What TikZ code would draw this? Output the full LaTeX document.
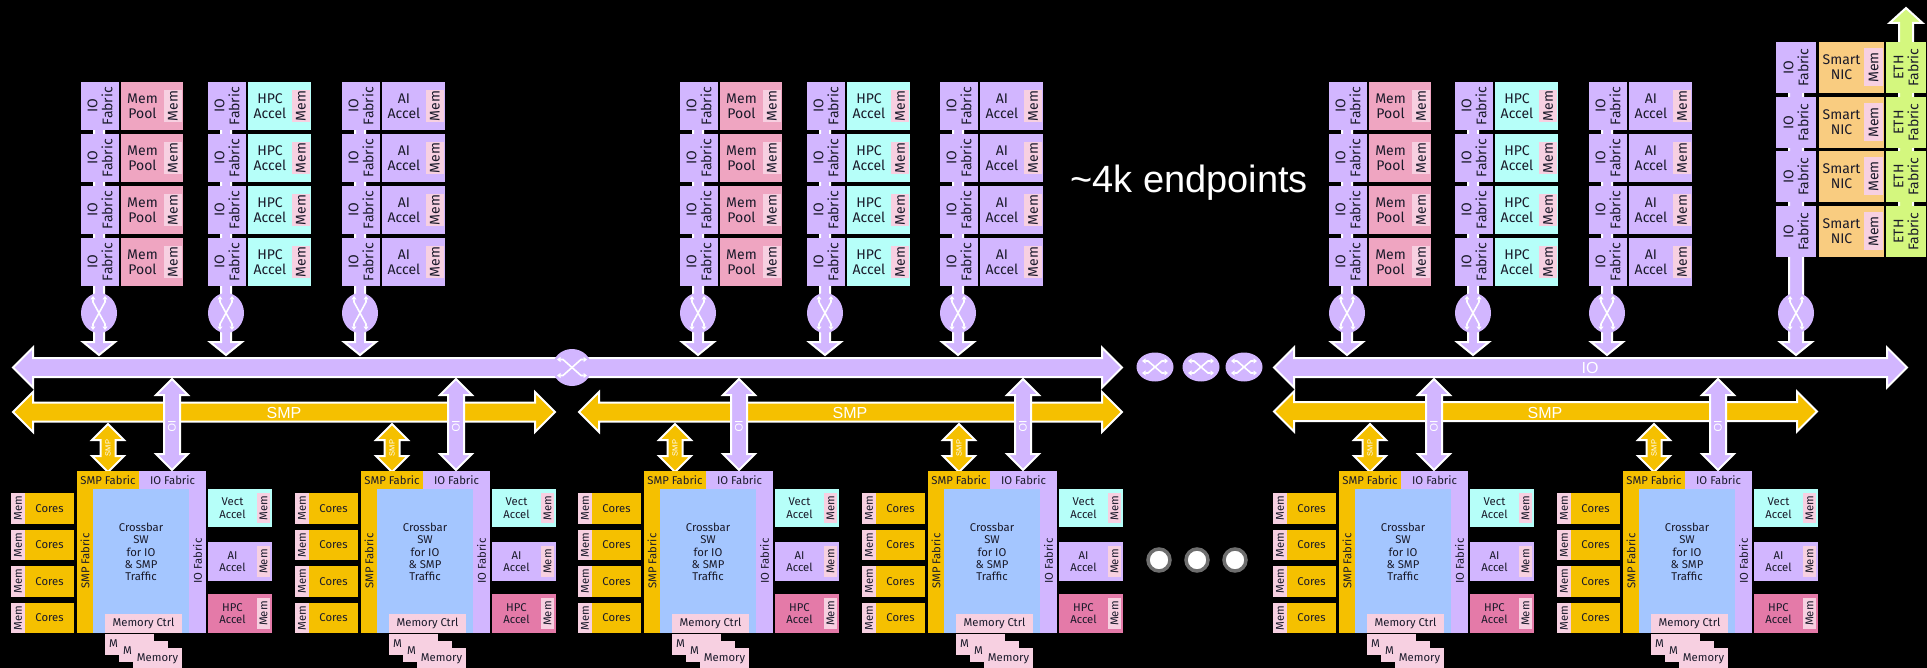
\documentclass[tikz,border=0pt]{standalone}
\usepackage{fontspec}
\setmainfont{Liberation Sans}
\newfontfamily\plex{Fira Sans}
\usetikzlibrary{shapes.geometric,arrows.meta,calc}
\definecolor{lav}{HTML}{D2B6FF}
\definecolor{smpy}{HTML}{F5C000}
\definecolor{memlt}{HTML}{F7D0E1}
\definecolor{mempool}{HTML}{EFA5C1}
\definecolor{hpccyan}{HTML}{B6FFF9}
\definecolor{xbar}{HTML}{A4C6FF}
\definecolor{hpcdark}{HTML}{E47AA8}
\definecolor{nic}{HTML}{F9CC80}
\definecolor{eth}{HTML}{D4F77E}
\definecolor{txt}{HTML}{1A1A2A}
\definecolor{dotgray}{HTML}{6E6E6E}
\tikzset{
  blk/.style={draw=none, inner sep=0pt, outer sep=0pt, anchor=north west},
  lbl/.style={font=\plex\fontsize{14}{15}\selectfont, text=txt, align=center, inner sep=0pt},
  vlbl/.style={lbl, rotate=90},
  clbl/.style={font=\plex\fontsize{11.3}{12.4}\selectfont, text=txt, align=center, inner sep=0pt},
  cvlbl/.style={clbl, rotate=90},
  fat/.style={draw=white, line width=2pt, line join=miter},
  icon/.style={draw=white, line width=1.6pt, {Triangle[length=3.5pt,width=5pt]}-{Triangle[length=3.5pt,width=5pt]}},
  swell/.style={ellipse, fill=lav, inner sep=0pt, outer sep=0pt},
  buslbl/.style={font=\fontsize{16}{18}\selectfont, text=white, inner sep=0pt},
}
% box: name x y w h color
\newcommand{\bx}[6]{\node[blk, fill=#6, minimum width=#4pt, minimum height=#5pt] (#1) at (#2,#3) {};}
% horizontal double bus: x1 x2 yc color
\newcommand{\hbus}[4]{\draw[fat, fill=#4] (#1,#3) -- (#1+20,#3-20) -- (#1+20,#3-9.5) -- (#2-20,#3-9.5) -- (#2-20,#3-20) -- (#2,#3) -- (#2-20,#3+20) -- (#2-20,#3+9.5) -- (#1+20,#3+9.5) -- (#1+20,#3+20) -- cycle;}
% vertical double arrow: x y1 y2 hs hh hl color
\newcommand{\vdarrow}[7]{\draw[fat, fill=#7] (#1,#2) -- (#1+#5,#2+#6) -- (#1+#4,#2+#6) -- (#1+#4,#3-#6) -- (#1+#5,#3-#6) -- (#1,#3) -- (#1-#5,#3-#6) -- (#1-#4,#3-#6) -- (#1-#4,#2+#6) -- (#1-#5,#2+#6) -- cycle;}
% down arrow: x y1(top, tail) y2(tip) hs hh hl color
\newcommand{\vdown}[7]{\draw[fat, fill=#7] (#1-#4,#2) -- (#1-#4,#3-#6) -- (#1-#5,#3-#6) -- (#1,#3) -- (#1+#5,#3-#6) -- (#1+#4,#3-#6) -- (#1+#4,#2) -- cycle;}
% up arrow: x y1(tip) y2(tail) hs hh hl color
\newcommand{\vup}[7]{\draw[fat, fill=#7] (#1,#2) -- (#1+#5,#2+#6) -- (#1+#4,#2+#6) -- (#1+#4,#3) -- (#1-#4,#3) -- (#1-#4,#2+#6) -- (#1-#5,#2+#6) -- cycle;}
% switch icons
\newcommand{\vicon}[2]{%
  \draw[icon] (#1-6,#2-17) -- (#1-6,#2-11) -- (#1+6,#2+11) -- (#1+6,#2+17);
  \draw[icon] (#1+6,#2-17) -- (#1+6,#2-11) -- (#1-6,#2+11) -- (#1-6,#2+17);}
\newcommand{\hicon}[4]{%
  \draw[icon] (#1-#3,#2-#4) -- (#1-#3+6,#2-#4) -- (#1+#3-6,#2+#4) -- (#1+#3,#2+#4);
  \draw[icon] (#1-#3,#2+#4) -- (#1-#3+6,#2+#4) -- (#1+#3-6,#2-#4) -- (#1+#3,#2-#4);}
% endpoint row: name x y h mainlabel color mainw
\newcommand{\eprow}[7]{%
  \bx{#1a}{#2}{#3}{38}{#4}{lav}
  \node[vlbl] (#1at) at (#1a.center) {IO\\Fabric};
  \bx{#1b}{#2+40}{#3}{#7}{#4}{#6}
  \node[blk, fill=memlt, minimum width=18pt, minimum height=32pt, anchor=east] (#1c) at ([xshift=-1pt]#1b.east) {};
  \node[vlbl] (#1ct) at (#1c.center) {Mem};
  \node[lbl] (#1bt) at ($(#1b.west)!0.5!(#1c.west)$) {#5};}
% endpoint stack: name x label color w
\newcommand{\epstack}[5]{%
  \vdown{#2+18}{100}{355}{5}{16}{13}{lav}
  \node[swell, minimum width=36pt, minimum height=40pt] (#1sw) at (#2+18,313) {};
  \vicon{#2+18}{313}
  \foreach \i in {0,1,2,3} {\eprow{#1r\i}{#2}{82+52*\i}{48}{#3}{#4}{#5}}}
% chip: name dx
\newcommand{\chip}[2]{%
  \vdarrow{#2+108}{424}{472}{7.5}{16}{16}{smpy}
  \node[font=\fontsize{7.5}{8}\selectfont, text=white, rotate=90, inner sep=0pt] (#1smpl) at (#2+108,448) {SMP};
  \vdarrow{#2+172}{379}{470}{8}{16}{16}{lav}
  \node[font=\fontsize{11}{12}\selectfont, text=white, rotate=-90, inner sep=0pt] (#1iol) at (#2+172,426) {IO};
  \foreach \r/\yy in {1/493,2/529.5,3/566,4/602.5} {
    \bx{#1m\r}{#2+11}{\yy}{14}{30.5}{memlt}
    \node[cvlbl] (#1mt\r) at (#1m\r.center) {Mem};
    \bx{#1c\r}{#2+25}{\yy}{49}{30.5}{smpy}
    \node[clbl] (#1ct\r) at (#1c\r.center) {Cores};
  }
  \bx{#1sf}{#2+77}{471}{62}{18}{smpy}
  \node[clbl] (#1sft) at (#1sf.center) {SMP Fabric};
  \bx{#1ss}{#2+77}{489}{16}{144}{smpy}
  \node[cvlbl] (#1sst) at (#1ss.center) {SMP Fabric};
  \bx{#1if}{#2+139}{471}{67}{18}{lav}
  \node[clbl] (#1ift) at (#1if.center) {IO Fabric};
  \bx{#1is}{#2+189}{489}{17}{144}{lav}
  \node[cvlbl] (#1ist) at (#1is.center) {IO Fabric};
  \bx{#1xb}{#2+93}{489}{96}{144}{xbar}
  \node[clbl] (#1xbt) at (#2+141,552) {Crossbar\\SW\\for IO\\\& SMP\\Traffic};
  \bx{#1mc}{#2+105}{614}{77}{19}{memlt}
  \node[clbl] (#1mct) at (#1mc.center) {Memory Ctrl};
  \bx{#1s1}{#2+105}{634}{49}{21}{memlt}
  \node[clbl, anchor=west] (#1s1t) at (#2+109,644) {M};
  \bx{#1s2}{#2+119}{641}{49}{21}{memlt}
  \node[clbl, anchor=west] (#1s2t) at (#2+123,651) {M};
  \bx{#1s3}{#2+133}{648}{49}{21}{memlt}
  \node[clbl] (#1s3t) at (#2+157.5,658.5) {Memory};
  \foreach \k/\yy/\hh/\cc/\la in {v/489/38/hpccyan/{Vect\\Accel}, a/542/39/lav/{AI\\Accel}, h/594/39/hpcdark/{HPC\\Accel}} {
    \bx{#1\k}{#2+208}{\yy}{64}{\hh}{\cc}
    \node[blk, fill=memlt, minimum width=13pt, minimum height=\hh pt-8pt, anchor=east] (#1\k m) at ([xshift=-2pt]#1\k.east) {};
    \node[cvlbl] (#1\k mt) at (#1\k m.center) {Mem};
    \node[clbl] (#1\k t) at ($(#1\k.west)!0.5!(#1\k m.west)$) {\la};
  }}
\begin{document}
\begin{tikzpicture}[x=1pt,y=-1pt]
\useasboundingbox (0,0) rectangle (1927,668);
\fill[black] (0,0) rectangle (1927,668);
% endpoint stacks
\epstack{A1}{81}{Mem\\Pool}{mempool}{62}
\epstack{A2}{208}{HPC\\Accel}{hpccyan}{63}
\epstack{A3}{342}{AI\\Accel}{lav}{63}
\epstack{B1}{680}{Mem\\Pool}{mempool}{62}
\epstack{B2}{807}{HPC\\Accel}{hpccyan}{63}
\epstack{B3}{940}{AI\\Accel}{lav}{63}
\epstack{C1}{1329}{Mem\\Pool}{mempool}{62}
\epstack{C2}{1455}{HPC\\Accel}{hpccyan}{63}
\epstack{C3}{1589}{AI\\Accel}{lav}{63}
% ETH stack
\vup{1906}{8}{240}{7}{16.5}{15}{eth}
\vdown{1796}{60}{355}{7}{16}{13}{lav}
\node[swell, minimum width=36pt, minimum height=40pt] (Esw) at (1796,313) {};
\vicon{1796}{313}
\foreach \i/\yy in {0/42,1/97,2/151,3/206} {
  \bx{Er\i a}{1776}{\yy}{40}{51}{lav}
  \node[vlbl] (Er\i at) at (Er\i a.center) {IO\\Fabric};
  \bx{Er\i b}{1819}{\yy}{65}{51}{nic}
  \node[blk, fill=memlt, minimum width=19pt, minimum height=38pt, anchor=east] (Er\i c) at ([xshift=-1pt]Er\i b.east) {};
  \node[vlbl] (Er\i ct) at (Er\i c.center) {Mem};
  \node[lbl] (Er\i bt) at ($(Er\i b.west)!0.5!(Er\i c.west)$) {Smart\\NIC};
  \bx{Er\i e}{1886}{\yy}{40}{51}{eth}
  \node[vlbl] (Er\i et) at (Er\i e.center) {ETH\\Fabric};
}
% IO buses
\hbus{13}{1122}{367.5}{lav}
\node[swell, minimum width=39pt, minimum height=37pt] (midsw) at (572,367.5) {};
\hicon{572}{367.5}{15}{8}
\hbus{1274}{1907}{367.5}{lav}
\node[buslbl] (iolbl) at (1590,368) {IO};
\foreach \n/\xx in {1/1155,2/1201,3/1244} {
  \node[swell, minimum width=37pt, minimum height=29pt] (gap\n) at (\xx,367) {};
  \hicon{\xx}{367}{13}{6}
}
% SMP buses
\hbus{13}{555}{412}{smpy}
\hbus{579}{1122}{412}{smpy}
\hbus{1274}{1817}{411.5}{smpy}
\node[buslbl] (smp1) at (284,413) {SMP};
\node[buslbl] (smp2) at (850,413) {SMP};
\node[buslbl] (smp3) at (1545,413) {SMP};
% chips
\chip{K1}{0}
\chip{K2}{284}
\chip{K3}{567}
\chip{K4}{851}
\chip{K5}{1262}
\chip{K6}{1546}
% ellipsis dots
\foreach \n/\xx in {1/1159,2/1197,3/1235} {
  \node[circle, fill=white, draw=dotgray, line width=3.5pt, minimum size=22pt, inner sep=0pt] (dot\n) at (\xx,560) {};
}
\node[font=\fontsize{38}{40}\selectfont, text=white, anchor=base, inner sep=0pt] (ep) at (1189,193) {\char"7E 4k endpoints};
\end{tikzpicture}
\end{document}
